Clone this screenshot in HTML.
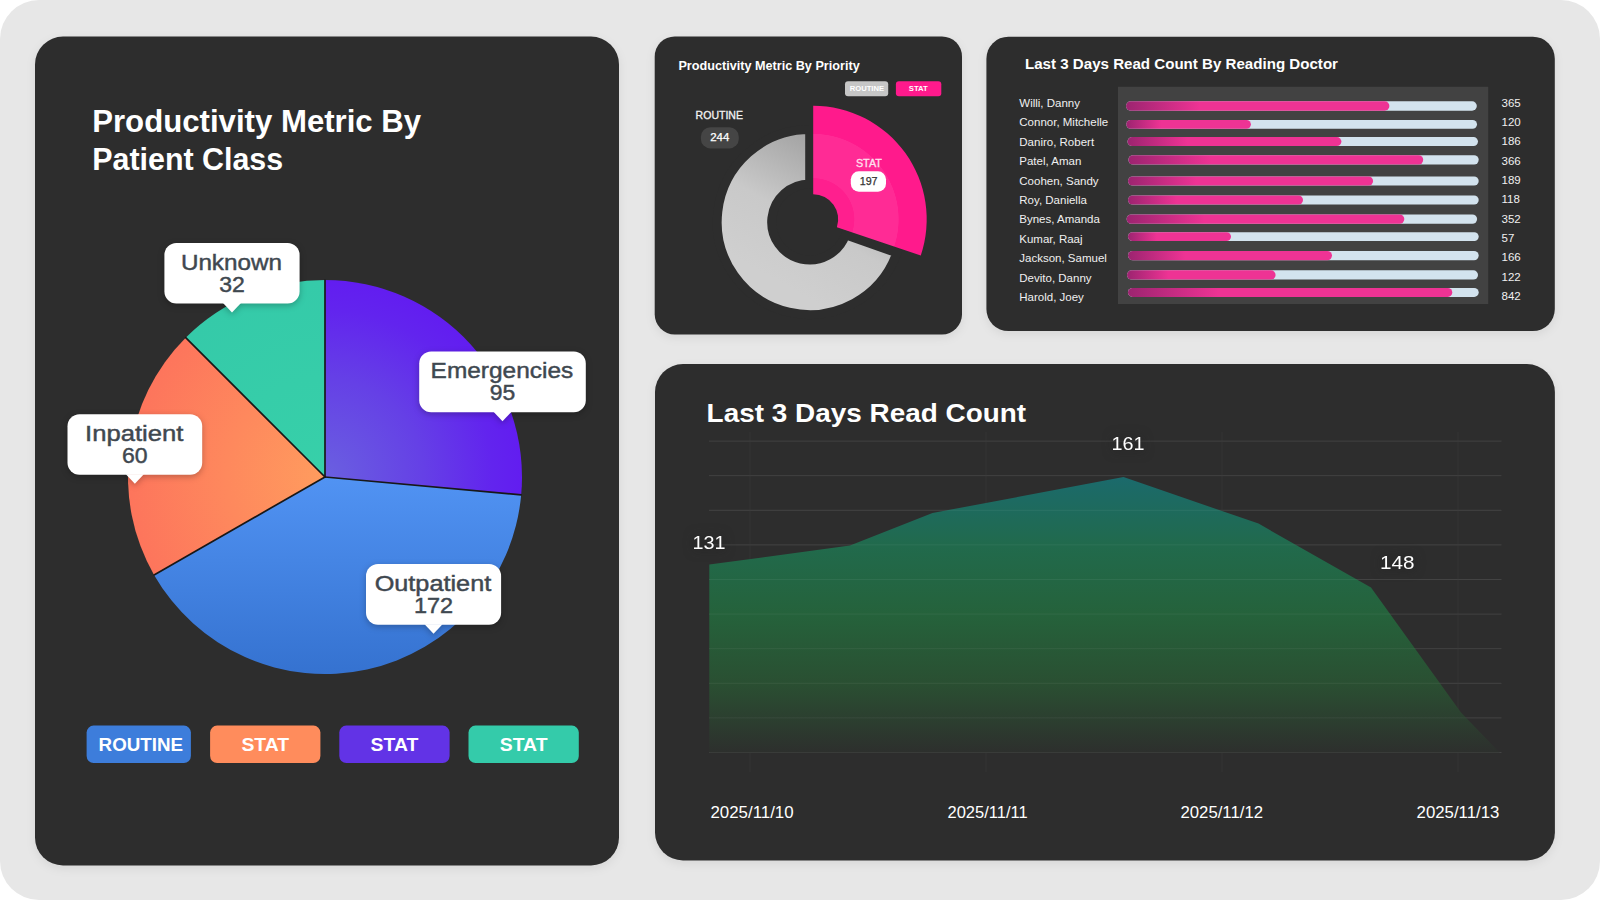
<!DOCTYPE html>
<html lang="en"><head><meta charset="utf-8"><title>Radiology Productivity Dashboard</title>
<style>
html,body{margin:0;padding:0;background:#fff;width:1600px;height:900px;overflow:hidden}
svg{display:block;font-family:"Liberation Sans", sans-serif}
text{white-space:pre}
</style></head><body>
<svg width="1600" height="900" viewBox="0 0 1600 900">
<defs>
<filter id="cardsh" color-interpolation-filters="sRGB" x="-5%" y="-5%" width="110%" height="112%"><feDropShadow dx="0" dy="3" stdDeviation="5" flood-color="#000" flood-opacity="0.07"/></filter>
<filter id="tipsh" color-interpolation-filters="sRGB" x="-20%" y="-20%" width="140%" height="150%"><feDropShadow dx="0" dy="2" stdDeviation="3" flood-color="#000" flood-opacity="0.25"/></filter>
<filter id="txtsh" color-interpolation-filters="sRGB" x="-40%" y="-60%" width="180%" height="220%"><feDropShadow dx="0" dy="0" stdDeviation="6" flood-color="#1c1c1c" flood-opacity="0.9"/></filter>
<radialGradient id="gPurple" gradientUnits="userSpaceOnUse" cx="325" cy="477" r="197"><stop offset="0" stop-color="#6a60e0"/><stop offset="0.5" stop-color="#6540e6"/><stop offset="0.85" stop-color="#6224ee"/><stop offset="1" stop-color="#621df0"/></radialGradient>
<linearGradient id="gBlue" gradientUnits="userSpaceOnUse" x1="0" y1="477" x2="0" y2="674"><stop offset="0" stop-color="#5193f3"/><stop offset="1" stop-color="#3572d0"/></linearGradient>
<radialGradient id="gOrange" gradientUnits="userSpaceOnUse" cx="325" cy="477" r="197"><stop offset="0" stop-color="#ff9c5e"/><stop offset="1" stop-color="#fd755c"/></radialGradient>
<radialGradient id="gTeal" gradientUnits="userSpaceOnUse" cx="325" cy="477" r="197"><stop offset="0" stop-color="#37d0a9"/><stop offset="1" stop-color="#35caa9"/></radialGradient>
<linearGradient id="gGray" gradientUnits="userSpaceOnUse" x1="810" y1="134" x2="740" y2="260"><stop offset="0" stop-color="#a2a2a2"/><stop offset="0.55" stop-color="#c9c9c9"/><stop offset="1" stop-color="#cfcfcf"/></linearGradient>
<radialGradient id="gPink" gradientUnits="userSpaceOnUse" cx="813.2" cy="219.3" r="113.5"><stop offset="0" stop-color="#ff1f8e"/><stop offset="0.36" stop-color="#ff1f8e"/><stop offset="0.365" stop-color="#ff2b95"/><stop offset="0.75" stop-color="#ff2b95"/><stop offset="0.755" stop-color="#ff1a8c"/><stop offset="1" stop-color="#ff1a8c"/></radialGradient>
<linearGradient id="gArea" gradientUnits="userSpaceOnUse" x1="0" y1="477" x2="0" y2="753"><stop offset="0" stop-color="#1b6a6c"/><stop offset="0.25" stop-color="#216a4c"/><stop offset="0.5" stop-color="#25623b"/><stop offset="0.75" stop-color="#2a4f32"/><stop offset="0.9" stop-color="#2c3c2f"/><stop offset="1" stop-color="#2d2f2d"/></linearGradient>
<linearGradient id="gBar" x1="0" y1="0" x2="1" y2="0"><stop offset="0" stop-color="#9c2470"/><stop offset="0.28" stop-color="#ee3394"/><stop offset="1" stop-color="#ee3394"/></linearGradient>
</defs>
<rect x="0" y="0" width="1600" height="900" rx="39" ry="39" fill="#e7e7e7"/>
<rect x="35" y="36.5" width="584" height="829.0" rx="28" ry="28" fill="#2d2d2d" filter="url(#cardsh)"/>
<rect x="654.7" y="36.5" width="307.3" height="297.9" rx="20" ry="20" fill="#2d2d2d" filter="url(#cardsh)"/>
<rect x="986.4" y="36.7" width="568.4" height="294.4" rx="22" ry="22" fill="#2d2d2d" filter="url(#cardsh)"/>
<rect x="655" y="364.1" width="899.9" height="496.3" rx="28" ry="28" fill="#2d2d2d" filter="url(#cardsh)"/>
<text x="92.2" y="131.6" font-size="32" font-weight="700" fill="#fff" text-anchor="start" textLength="329" lengthAdjust="spacingAndGlyphs">Productivity Metric By</text>
<text x="92.2" y="169.9" font-size="32" font-weight="700" fill="#fff" text-anchor="start" textLength="191" lengthAdjust="spacingAndGlyphs">Patient Class</text>
<path d="M325.00,477.00 L325.00,280.00 A197,197 0 0 1 521.19,494.85 Z" fill="url(#gPurple)"/>
<path d="M325.00,477.00 L521.19,494.85 A197,197 0 0 1 154.05,574.90 Z" fill="url(#gBlue)"/>
<path d="M325.00,477.00 L154.05,574.90 A197,197 0 0 1 185.70,337.70 Z" fill="url(#gOrange)"/>
<path d="M325.00,477.00 L185.70,337.70 A197,197 0 0 1 325.00,280.00 Z" fill="url(#gTeal)"/>
<line x1="325" y1="477" x2="325.00" y2="280.00" stroke="#181818" stroke-width="1.7" stroke-linecap="round"/>
<line x1="325" y1="477" x2="521.19" y2="494.85" stroke="#181818" stroke-width="1.7" stroke-linecap="round"/>
<line x1="325" y1="477" x2="154.05" y2="574.90" stroke="#181818" stroke-width="1.7" stroke-linecap="round"/>
<line x1="325" y1="477" x2="185.70" y2="337.70" stroke="#181818" stroke-width="1.7" stroke-linecap="round"/>
<g filter="url(#tipsh)"><rect x="164.4" y="243" width="135.2" height="60.6" rx="12" fill="#fff"/><path d="M223.0,303.1 L232.0,312.6 L241.0,303.1 Z" fill="#fff"/></g>
<text x="180.9" y="269.5" font-size="22" font-weight="400" fill="#3f4850" text-anchor="start" textLength="101.0" lengthAdjust="spacingAndGlyphs" stroke="#3f4850" stroke-width="0.45">Unknown</text>
<text x="219.2" y="291.8" font-size="22" font-weight="400" fill="#3f4850" text-anchor="start" textLength="25.6" lengthAdjust="spacingAndGlyphs" stroke="#3f4850" stroke-width="0.45">32</text>
<g filter="url(#tipsh)"><rect x="419.2" y="351.4" width="166.6" height="60.8" rx="12" fill="#fff"/><path d="M493.5,411.7 L502.5,421.2 L511.5,411.7 Z" fill="#fff"/></g>
<text x="430.6" y="377.9" font-size="22" font-weight="400" fill="#3f4850" text-anchor="start" textLength="142.6" lengthAdjust="spacingAndGlyphs" stroke="#3f4850" stroke-width="0.45">Emergencies</text>
<text x="489.75" y="400.2" font-size="22" font-weight="400" fill="#3f4850" text-anchor="start" textLength="25.5" lengthAdjust="spacingAndGlyphs" stroke="#3f4850" stroke-width="0.45">95</text>
<g filter="url(#tipsh)"><rect x="67.5" y="414.2" width="134.7" height="60.5" rx="12" fill="#fff"/><path d="M125.85,474.2 L134.85,483.7 L143.85,474.2 Z" fill="#fff"/></g>
<text x="85.1" y="440.7" font-size="22" font-weight="400" fill="#3f4850" text-anchor="start" textLength="98.3" lengthAdjust="spacingAndGlyphs" stroke="#3f4850" stroke-width="0.45">Inpatient</text>
<text x="122.05" y="463.0" font-size="22" font-weight="400" fill="#3f4850" text-anchor="start" textLength="25.6" lengthAdjust="spacingAndGlyphs" stroke="#3f4850" stroke-width="0.45">60</text>
<g filter="url(#tipsh)"><rect x="366" y="564" width="135.1" height="60.7" rx="12" fill="#fff"/><path d="M424.55,624.2 L433.55,633.7 L442.55,624.2 Z" fill="#fff"/></g>
<text x="374.65000000000003" y="590.5" font-size="22" font-weight="400" fill="#3f4850" text-anchor="start" textLength="116.6" lengthAdjust="spacingAndGlyphs" stroke="#3f4850" stroke-width="0.45">Outpatient</text>
<text x="413.95" y="612.8" font-size="22" font-weight="400" fill="#3f4850" text-anchor="start" textLength="39.2" lengthAdjust="spacingAndGlyphs" stroke="#3f4850" stroke-width="0.45">172</text>
<rect x="86.6" y="725.6" width="104.3" height="37.4" rx="7" ry="7" fill="#3d7ddb"/>
<text x="98.6" y="750.7" font-size="18" font-weight="700" fill="#fff" text-anchor="start" textLength="84.5" lengthAdjust="spacingAndGlyphs">ROUTINE</text>
<rect x="210.1" y="725.6" width="110.3" height="37.4" rx="7" ry="7" fill="#ff8c5c"/>
<text x="241.4" y="750.7" font-size="18" font-weight="700" fill="#fff" text-anchor="start" textLength="47.7" lengthAdjust="spacingAndGlyphs">STAT</text>
<rect x="339.3" y="725.6" width="110.3" height="37.4" rx="7" ry="7" fill="#6233e6"/>
<text x="370.6" y="750.7" font-size="18" font-weight="700" fill="#fff" text-anchor="start" textLength="47.7" lengthAdjust="spacingAndGlyphs">STAT</text>
<rect x="468.5" y="725.6" width="110.3" height="37.4" rx="7" ry="7" fill="#34cbaa"/>
<text x="499.79999999999995" y="750.7" font-size="18" font-weight="700" fill="#fff" text-anchor="start" textLength="47.7" lengthAdjust="spacingAndGlyphs">STAT</text>
<text x="678.4" y="70" font-size="13" font-weight="700" fill="#fff" text-anchor="start" textLength="181.3" lengthAdjust="spacingAndGlyphs">Productivity Metric By Priority</text>
<rect x="845" y="81.3" width="43.2" height="15.0" rx="3" ry="3" fill="#c6c6c6"/>
<text x="849.75" y="91.4" font-size="7" font-weight="700" fill="#fff" text-anchor="start" textLength="34.3" lengthAdjust="spacingAndGlyphs">ROUTINE</text>
<rect x="895.9" y="81.3" width="45.4" height="15.0" rx="3" ry="3" fill="#ff1a8c"/>
<text x="908.8" y="91.4" font-size="7" font-weight="700" fill="#fff" text-anchor="start" textLength="19" lengthAdjust="spacingAndGlyphs">STAT</text>
<text x="695.6" y="119.1" font-size="10.5" font-weight="400" fill="#f2f2f2" text-anchor="start" textLength="47.4" lengthAdjust="spacingAndGlyphs" stroke="#f2f2f2" stroke-width="0.3">ROUTINE</text>
<rect x="700.9" y="127.2" width="37.9" height="21.2" rx="9.5" ry="9.5" fill="#454545"/>
<text x="710.25" y="141.3" font-size="10.5" font-weight="400" fill="#fff" text-anchor="start" textLength="19.1" lengthAdjust="spacingAndGlyphs" stroke="#fff" stroke-width="0.25">244</text>
<path d="M896.89,252.88 A92.5,92.5 0 1 1 809.70,129.50 L809.70,184.00 A38,38 0 1 0 845.52,234.68 Z" fill="url(#gGray)" stroke="#2d2d2d" stroke-width="9" stroke-linejoin="miter"/>
<path d="M813.20,105.80 A113.5,113.5 0 0 1 920.77,255.50 L836.89,227.27 A25,25 0 0 0 813.20,194.30 Z" fill="url(#gPink)"/>
<text x="855.9" y="166.7" font-size="10.5" font-weight="400" fill="#ffe0ef" text-anchor="start" textLength="26" lengthAdjust="spacingAndGlyphs" stroke="#ffe0ef" stroke-width="0.3">STAT</text>
<rect x="850.8" y="171.3" width="35.2" height="20.4" rx="8" ry="8" fill="#fff"/>
<text x="859.7" y="185.1" font-size="10.5" font-weight="400" fill="#333" text-anchor="start" textLength="17.9" lengthAdjust="spacingAndGlyphs" stroke="#333" stroke-width="0.25">197</text>
<text x="1025" y="68.6" font-size="14.5" font-weight="700" fill="#fff" text-anchor="start" textLength="313" lengthAdjust="spacingAndGlyphs">Last 3 Days Read Count By Reading Doctor</text>
<rect x="1118" y="86.8" width="370.2" height="217.2" rx="0" ry="0" fill="#424242"/>
<rect x="1126" y="101.3" width="350.8" height="9.4" rx="4.700000000000003" ry="4.700000000000003" fill="#d3e3ee"/>
<rect x="1126" y="101.3" width="263.4" height="9.4" rx="4.700000000000003" ry="4.700000000000003" fill="url(#gBar)"/>
<text x="1019.3" y="106.9" font-size="11.5" font-weight="400" fill="#f0f0f0" text-anchor="start">Willi, Danny</text>
<text x="1501.5" y="106.5" font-size="11.5" font-weight="400" fill="#f0f0f0" text-anchor="start">365</text>
<rect x="1126.3" y="119.9" width="350.7" height="8.8" rx="4.3999999999999915" ry="4.3999999999999915" fill="#d3e3ee"/>
<rect x="1126.3" y="119.9" width="124.6" height="8.8" rx="4.3999999999999915" ry="4.3999999999999915" fill="url(#gBar)"/>
<text x="1019.3" y="126.31" font-size="11.5" font-weight="400" fill="#f0f0f0" text-anchor="start">Connor, Mitchelle</text>
<text x="1501.5" y="125.85" font-size="11.5" font-weight="400" fill="#f0f0f0" text-anchor="start">120</text>
<rect x="1127.5" y="137.1" width="350.5" height="9.0" rx="4.5" ry="4.5" fill="#d3e3ee"/>
<rect x="1127.5" y="137.1" width="213.9" height="9.0" rx="4.5" ry="4.5" fill="url(#gBar)"/>
<text x="1019.3" y="145.72" font-size="11.5" font-weight="400" fill="#f0f0f0" text-anchor="start">Daniro, Robert</text>
<text x="1501.5" y="145.2" font-size="11.5" font-weight="400" fill="#f0f0f0" text-anchor="start">186</text>
<rect x="1128.4" y="155.2" width="350.3" height="9.3" rx="4.650000000000006" ry="4.650000000000006" fill="#d3e3ee"/>
<rect x="1128.4" y="155.2" width="294.8" height="9.3" rx="4.650000000000006" ry="4.650000000000006" fill="url(#gBar)"/>
<text x="1019.3" y="165.13" font-size="11.5" font-weight="400" fill="#f0f0f0" text-anchor="start">Patel, Aman</text>
<text x="1501.5" y="164.55" font-size="11.5" font-weight="400" fill="#f0f0f0" text-anchor="start">366</text>
<rect x="1128" y="176.4" width="350.7" height="9.2" rx="4.599999999999994" ry="4.599999999999994" fill="#d3e3ee"/>
<rect x="1128" y="176.4" width="245.1" height="9.2" rx="4.599999999999994" ry="4.599999999999994" fill="url(#gBar)"/>
<text x="1019.3" y="184.54" font-size="11.5" font-weight="400" fill="#f0f0f0" text-anchor="start">Coohen, Sandy</text>
<text x="1501.5" y="183.9" font-size="11.5" font-weight="400" fill="#f0f0f0" text-anchor="start">189</text>
<rect x="1128" y="195.4" width="350.7" height="9.2" rx="4.599999999999994" ry="4.599999999999994" fill="#d3e3ee"/>
<rect x="1128" y="195.4" width="175" height="9.2" rx="4.599999999999994" ry="4.599999999999994" fill="url(#gBar)"/>
<text x="1019.3" y="203.95" font-size="11.5" font-weight="400" fill="#f0f0f0" text-anchor="start">Roy, Daniella</text>
<text x="1501.5" y="203.25" font-size="11.5" font-weight="400" fill="#f0f0f0" text-anchor="start">118</text>
<rect x="1126.6" y="214.4" width="350.5" height="9.4" rx="4.700000000000003" ry="4.700000000000003" fill="#d3e3ee"/>
<rect x="1126.6" y="214.4" width="277.7" height="9.4" rx="4.700000000000003" ry="4.700000000000003" fill="url(#gBar)"/>
<text x="1019.3" y="223.36" font-size="11.5" font-weight="400" fill="#f0f0f0" text-anchor="start">Bynes, Amanda</text>
<text x="1501.5" y="222.6" font-size="11.5" font-weight="400" fill="#f0f0f0" text-anchor="start">352</text>
<rect x="1128" y="232.2" width="350.7" height="8.8" rx="4.400000000000006" ry="4.400000000000006" fill="#d3e3ee"/>
<rect x="1128" y="232.2" width="103" height="8.8" rx="4.400000000000006" ry="4.400000000000006" fill="url(#gBar)"/>
<text x="1019.3" y="242.77" font-size="11.5" font-weight="400" fill="#f0f0f0" text-anchor="start">Kumar, Raaj</text>
<text x="1501.5" y="241.95" font-size="11.5" font-weight="400" fill="#f0f0f0" text-anchor="start">57</text>
<rect x="1128" y="250.9" width="350.7" height="9.4" rx="4.700000000000003" ry="4.700000000000003" fill="#d3e3ee"/>
<rect x="1128" y="250.9" width="204" height="9.4" rx="4.700000000000003" ry="4.700000000000003" fill="url(#gBar)"/>
<text x="1019.3" y="262.18" font-size="11.5" font-weight="400" fill="#f0f0f0" text-anchor="start">Jackson, Samuel</text>
<text x="1501.5" y="261.3" font-size="11.5" font-weight="400" fill="#f0f0f0" text-anchor="start">166</text>
<rect x="1127" y="270.3" width="351" height="9.3" rx="4.650000000000006" ry="4.650000000000006" fill="#d3e3ee"/>
<rect x="1127" y="270.3" width="148.6" height="9.3" rx="4.650000000000006" ry="4.650000000000006" fill="url(#gBar)"/>
<text x="1019.3" y="281.59" font-size="11.5" font-weight="400" fill="#f0f0f0" text-anchor="start">Devito, Danny</text>
<text x="1501.5" y="280.65" font-size="11.5" font-weight="400" fill="#f0f0f0" text-anchor="start">122</text>
<rect x="1128" y="287.9" width="350.7" height="9.0" rx="4.5" ry="4.5" fill="#d3e3ee"/>
<rect x="1128" y="287.9" width="324.3" height="9.0" rx="4.5" ry="4.5" fill="url(#gBar)"/>
<text x="1019.3" y="301.0" font-size="11.5" font-weight="400" fill="#f0f0f0" text-anchor="start">Harold, Joey</text>
<text x="1501.5" y="300.0" font-size="11.5" font-weight="400" fill="#f0f0f0" text-anchor="start">842</text>
<text x="706.6" y="422" font-size="26" font-weight="700" fill="#fff" text-anchor="start" textLength="319.5" lengthAdjust="spacingAndGlyphs">Last 3 Days Read Count</text>
<line x1="709" y1="441.1" x2="1501.5" y2="441.1" stroke="#383838" stroke-width="1"/>
<line x1="709" y1="475.7" x2="1501.5" y2="475.7" stroke="#383838" stroke-width="1"/>
<line x1="709" y1="510.3" x2="1501.5" y2="510.3" stroke="#383838" stroke-width="1"/>
<line x1="709" y1="544.9" x2="1501.5" y2="544.9" stroke="#383838" stroke-width="1"/>
<line x1="709" y1="579.5" x2="1501.5" y2="579.5" stroke="#383838" stroke-width="1"/>
<line x1="709" y1="614.1" x2="1501.5" y2="614.1" stroke="#383838" stroke-width="1"/>
<line x1="709" y1="648.7" x2="1501.5" y2="648.7" stroke="#383838" stroke-width="1"/>
<line x1="709" y1="683.3" x2="1501.5" y2="683.3" stroke="#383838" stroke-width="1"/>
<line x1="709" y1="717.9" x2="1501.5" y2="717.9" stroke="#383838" stroke-width="1"/>
<line x1="709" y1="752.5" x2="1501.5" y2="752.5" stroke="#383838" stroke-width="1"/>
<line x1="750" y1="432" x2="750" y2="772" stroke="#343434" stroke-width="1"/>
<line x1="986" y1="432" x2="986" y2="772" stroke="#343434" stroke-width="1"/>
<line x1="1222" y1="432" x2="1222" y2="772" stroke="#343434" stroke-width="1"/>
<line x1="1458" y1="432" x2="1458" y2="772" stroke="#343434" stroke-width="1"/>
<polygon points="709.3,564.5 850,545.6 932.5,513 1123.5,477.1 1258.5,523.6 1371,587.5 1461,712.5 1500,753 709.3,753" fill="url(#gArea)"/>
<line x1="709" y1="441.1" x2="1501.5" y2="441.1" stroke="#ffffff" stroke-opacity="0.06" stroke-width="1"/>
<line x1="709" y1="475.7" x2="1501.5" y2="475.7" stroke="#ffffff" stroke-opacity="0.06" stroke-width="1"/>
<line x1="709" y1="510.3" x2="1501.5" y2="510.3" stroke="#ffffff" stroke-opacity="0.06" stroke-width="1"/>
<line x1="709" y1="544.9" x2="1501.5" y2="544.9" stroke="#ffffff" stroke-opacity="0.06" stroke-width="1"/>
<line x1="709" y1="579.5" x2="1501.5" y2="579.5" stroke="#ffffff" stroke-opacity="0.06" stroke-width="1"/>
<line x1="709" y1="614.1" x2="1501.5" y2="614.1" stroke="#ffffff" stroke-opacity="0.06" stroke-width="1"/>
<line x1="709" y1="648.7" x2="1501.5" y2="648.7" stroke="#ffffff" stroke-opacity="0.06" stroke-width="1"/>
<line x1="709" y1="683.3" x2="1501.5" y2="683.3" stroke="#ffffff" stroke-opacity="0.06" stroke-width="1"/>
<line x1="709" y1="717.9" x2="1501.5" y2="717.9" stroke="#ffffff" stroke-opacity="0.06" stroke-width="1"/>
<line x1="709" y1="752.5" x2="1501.5" y2="752.5" stroke="#ffffff" stroke-opacity="0.06" stroke-width="1"/>
<g filter="url(#txtsh)">
<text x="692.5" y="548.6" font-size="19" font-weight="400" fill="#fff" text-anchor="start" textLength="33" lengthAdjust="spacingAndGlyphs">131</text>
</g>
<g filter="url(#txtsh)">
<text x="1111.5" y="449.5" font-size="19" font-weight="400" fill="#fff" text-anchor="start" textLength="33" lengthAdjust="spacingAndGlyphs">161</text>
</g>
<g filter="url(#txtsh)">
<text x="1380" y="568.9" font-size="19" font-weight="400" fill="#fff" text-anchor="start" textLength="34.5" lengthAdjust="spacingAndGlyphs">148</text>
</g>
<text x="710.5" y="817.5" font-size="17" font-weight="400" fill="#fff" text-anchor="start" textLength="83.1" lengthAdjust="spacingAndGlyphs">2025/11/10</text>
<text x="947.5" y="817.5" font-size="17" font-weight="400" fill="#fff" text-anchor="start" textLength="80.1" lengthAdjust="spacingAndGlyphs">2025/11/11</text>
<text x="1180.5" y="817.5" font-size="17" font-weight="400" fill="#fff" text-anchor="start" textLength="82.5" lengthAdjust="spacingAndGlyphs">2025/11/12</text>
<text x="1416.6" y="817.5" font-size="17" font-weight="400" fill="#fff" text-anchor="start" textLength="82.8" lengthAdjust="spacingAndGlyphs">2025/11/13</text>
</svg></body></html>
